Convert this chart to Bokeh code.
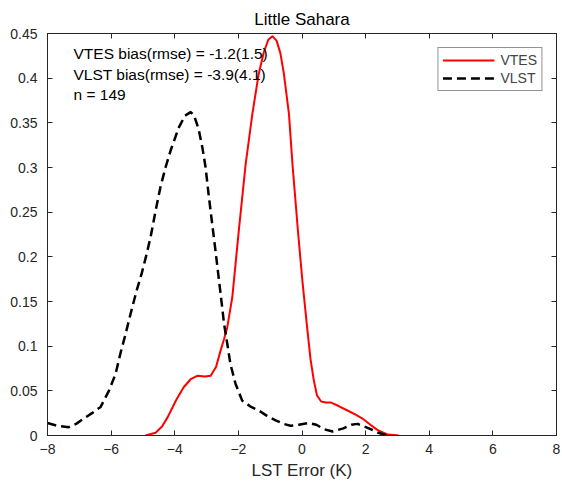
from bokeh.plotting import figure
from bokeh.models import Range1d, LinearAxis, FixedTicker, Label
from bokeh.embed import file_html
from bokeh.resources import INLINE

# ---- data ----
vtes_x = [-4.92, -4.6, -4.4, -4.23, -3.95, -3.72, -3.5, -3.28, -3.05, -2.87, -2.7, -2.56,
          -2.45, -2.35, -2.19, -1.985, -1.77, -1.56, -1.36, -1.2, -1.06, -0.93, -0.8,
          -0.68, -0.57, -0.41, -0.30, -0.13, 0.01, 0.17, 0.27, 0.37, 0.47, 0.6, 0.75,
          0.9, 1.15, 1.43, 1.7, 1.9, 2.15, 2.38, 2.7, 3.04]
vtes_y = [0.0, 0.003, 0.010, 0.02, 0.040, 0.054, 0.063, 0.067, 0.066, 0.067, 0.077, 0.095,
          0.108, 0.121, 0.155, 0.230, 0.304, 0.360, 0.405, 0.429, 0.443, 0.447, 0.442,
          0.428, 0.405, 0.360, 0.304, 0.230, 0.174, 0.118, 0.085, 0.062, 0.045, 0.038,
          0.037, 0.037, 0.033, 0.028, 0.023, 0.019, 0.012, 0.006, 0.001, 0.0]

vlst_x = [-8.0, -7.7, -7.33, -7.1, -6.86, -6.6, -6.33, -6.07, -5.86, -5.70, -5.55, -5.39,
          -5.2, -5.05, -4.92, -4.76, -4.60, -4.45, -4.29, -4.13, -3.87, -3.68, -3.50, -3.4,
          -3.25, -3.13, -3.03, -2.93, -2.82, -2.72, -2.56, -2.45, -2.35, -2.25, -2.09,
          -1.88, -1.6, -1.36, -1.1, -0.83, -0.58, -0.36, -0.1, 0.22, 0.45, 0.7, 0.96, 1.3,
          1.55, 1.75, 2.1, 2.4, 2.69]
vlst_y = [0.014, 0.011, 0.0093, 0.013, 0.019, 0.025, 0.032, 0.050, 0.069, 0.093, 0.113,
          0.136, 0.162, 0.180, 0.198, 0.222, 0.252, 0.278, 0.300, 0.319, 0.345, 0.358,
          0.362, 0.359, 0.343, 0.322, 0.300, 0.268, 0.236, 0.207, 0.159, 0.125, 0.103,
          0.080, 0.058, 0.039, 0.032, 0.028, 0.022, 0.017, 0.013, 0.011, 0.012, 0.014,
          0.012, 0.007, 0.0045, 0.008, 0.012, 0.013, 0.008, 0.003, 0.0]

x_ticks = [-8, -6, -4, -2, 0, 2, 4, 6, 8]
y_ticks = [0, 0.05, 0.1, 0.15, 0.2, 0.25, 0.3, 0.35, 0.4, 0.45]
y_tick_labels = ["0", "0.05", "0.1", "0.15", "0.2", "0.25", "0.3", "0.35", "0.4", "0.45"]

title_text = "Little Sahara"
xlabel_text = "LST Error (K)"
stats_lines = ["VTES bias(rmse) = -1.2(1.5)", "VLST bias(rmse) = -3.9(4.1)", "n = 149"]

FONT = "Liberation Sans"
AX = "#262626"

p = figure(width=562, height=487, output_backend="svg", toolbar_location=None,
           x_range=Range1d(-8, 8), y_range=Range1d(0, 0.45),
           min_border_left=47, min_border_right=6, min_border_top=33, min_border_bottom=52)
p.background_fill_color = "white"
p.border_fill_color = "white"
p.outline_line_color = AX
p.xgrid.visible = False
p.ygrid.visible = False

p.title.text = title_text
p.title.align = "center"
p.title.text_font = FONT
p.title.text_font_size = "17px"
p.title.text_font_style = "normal"
p.title.text_color = "black"

def style_axis(ax, labels=True):
    ax.axis_line_color = AX
    ax.major_tick_line_color = AX
    ax.major_tick_in = 5
    ax.major_tick_out = 0
    ax.minor_tick_line_color = None
    ax.major_label_text_font = FONT
    ax.major_label_text_font_size = "14px" if labels else "0px"
    ax.major_label_text_color = AX
    if not labels:
        ax.major_label_standoff = 0

p.xaxis.ticker = FixedTicker(ticks=x_ticks)
p.yaxis.ticker = FixedTicker(ticks=y_ticks)
p.yaxis.major_label_overrides = {t: s for t, s in zip(y_ticks, y_tick_labels)}
style_axis(p.xaxis[0])
style_axis(p.yaxis[0])
p.xaxis.major_label_standoff = 8
p.yaxis.major_label_standoff = 10
p.xaxis.axis_label = xlabel_text
p.xaxis.axis_label_text_font = FONT
p.xaxis.axis_label_text_font_size = "17px"
p.xaxis.axis_label_text_font_style = "normal"
p.xaxis.axis_label_text_color = AX
p.xaxis.axis_label_standoff = 4

top_ax = LinearAxis(ticker=FixedTicker(ticks=x_ticks))
right_ax = LinearAxis(ticker=FixedTicker(ticks=y_ticks))
style_axis(top_ax, labels=False)
style_axis(right_ax, labels=False)
p.add_layout(top_ax, "above")
p.add_layout(right_ax, "right")

p.line(vtes_x, vtes_y, line_color="#ff0000", line_width=2, legend_label="VTES",
       line_join="round")
p.line(vlst_x, vlst_y, line_color="black", line_width=2.5, line_dash="9 5",
       legend_label="VLST", line_join="round")

leg = p.legend[0]
leg.location = "top_right"
leg.margin = 14
leg.padding = 4
leg.spacing = 2
leg.label_text_font = FONT
leg.label_text_font_size = "14px"
leg.label_height = 16
leg.glyph_height = 16
leg.glyph_width = 52
leg.label_standoff = 6
leg.border_line_color = AX
leg.border_line_width = 1
leg.background_fill_color = "white"
leg.background_fill_alpha = 1.0

for i, s in enumerate(stats_lines):
    p.add_layout(Label(x=26, y=382 - i * 20.5, x_units="screen", y_units="screen",
                       text=s, text_font=FONT, text_font_size="15.5px",
                       text_baseline="middle", text_color="black"))

open("out.html", "w").write(file_html(p, INLINE))
